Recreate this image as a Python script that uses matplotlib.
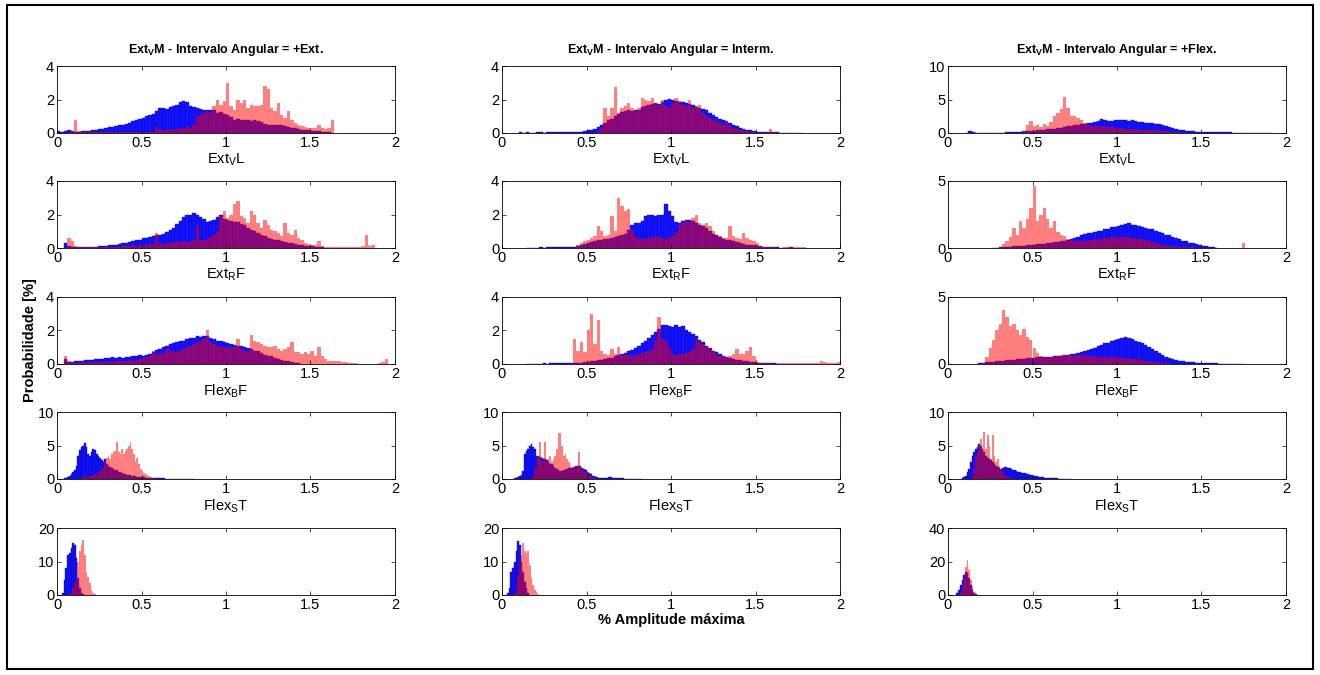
"""
Ext_V M amplitude histograms (blue vs red) for three angular intervals.
"""
import matplotlib
matplotlib.use("Agg")
import matplotlib.pyplot as plt
from matplotlib.patches import Rectangle
import numpy as np

plt.rcParams["font.family"] = ["Liberation Sans", "DejaVu Sans"]
plt.rcParams["mathtext.fontset"] = "custom"
plt.rcParams["mathtext.rm"] = "Liberation Sans"
plt.rcParams["mathtext.it"] = "Liberation Sans"
plt.rcParams["mathtext.bf"] = "Liberation Sans:bold"

# ---- data: bar heights in %, bins start at *_x0 ----
# rows 1-3 use 0.02 bins, rows 4-5 use 0.01 bins
col_titles = ["+Ext.", "Interm.", "+Flex."]
row_labels = ["Ext$_\\mathregular{V}$L", "Ext$_\\mathregular{R}$F",
              "Flex$_\\mathregular{B}$F", "Flex$_\\mathregular{S}$T", ""]
bin_w = [0.02, 0.02, 0.02, 0.01, 0.01]
y_max = [[4, 4, 10], [4, 4, 5], [4, 4, 5], [10, 10, 10], [20, 20, 40]]

# Ext_V L
extvl_ext_blue_x0 = 0.00
extvl_ext_blue = [0.10, 0.08, 0.10, 0.15, 0.10, 0.08, 0.08, 0.10, 0.10, 0.12,
                  0.15, 0.20, 0.22, 0.25, 0.30, 0.35, 0.38, 0.42, 0.45, 0.50,
                  0.55, 0.62, 0.70, 0.75, 0.85, 0.90, 1.00, 1.10, 1.15, 1.30,
                  1.50, 1.50, 1.45, 1.55, 1.60, 1.70, 1.85, 1.90, 1.85, 1.60,
                  1.55, 1.50, 1.45, 1.40, 1.35, 1.40, 1.35, 1.20, 1.25, 1.15,
                  1.05, 0.95, 0.80, 0.85, 0.80, 0.80, 0.75, 0.70, 0.75, 0.70,
                  0.65, 0.55, 0.50, 0.50, 0.45, 0.45, 0.50, 0.40, 0.35, 0.30,
                  0.30, 0.25, 0.20, 0.18, 0.15, 0.12, 0.12, 0.10, 0.08, 0.06, 0.05]
extvl_ext_red_x0 = 0.08
extvl_ext_red = [0.10, 0.80, 0.10,
                 0.05, 0.04, 0.05, 0.06, 0.05, 0.04, 0.05, 0.06, 0.05, 0.05, 0.06,
                 0.05, 0.04, 0.05, 0.06, 0.05, 0.06, 0.05, 0.06, 0.07, 0.06, 0.08,
                 0.35, 0.20, 0.20, 0.20, 0.25, 0.20, 0.25, 0.30, 0.30, 0.35, 0.30,
                 0.50, 1.00, 1.10, 1.20, 1.30, 1.20, 1.60, 2.00, 1.70, 1.90, 3.00,
                 1.60, 1.40, 2.00, 1.80, 2.00, 1.50, 1.70, 1.60, 1.60, 1.70, 2.80,
                 2.60, 1.50, 1.30, 1.80, 1.10, 0.90, 1.30, 0.80, 0.60, 0.45, 0.40,
                 0.35, 0.30, 0.30, 0.30, 0.50, 0.30, 0.25, 0.30, 0.80]
extvl_int_blue_x0 = 0.10
extvl_int_blue = [0.03, 0.02, 0.03, 0.02, 0.02, 0.03, 0.03, 0.02, 0.03, 0.04,
                  0.06, 0.03, 0.03, 0.04, 0.05, 0.05, 0.06, 0.06, 0.08, 0.10,
                  0.15, 0.20, 0.25, 0.35, 0.45, 0.60, 0.75, 0.85, 1.00, 1.15,
                  1.25, 1.30, 1.35, 1.30, 1.35, 1.40, 1.55, 1.60, 1.70, 1.75,
                  1.80, 1.75, 1.85, 2.00, 2.05, 1.95, 1.90, 1.85, 1.85, 1.80,
                  1.75, 1.65, 1.55, 1.50, 1.45, 1.35, 1.20, 1.05, 0.95, 0.85,
                  0.80, 0.70, 0.60, 0.50, 0.40, 0.30, 0.25, 0.20, 0.15, 0.10,
                  0.08, 0.06, 0.05, 0.04, 0.03, 0.03, 0.03, 0.02, 0.02, 0.02,
                  0.02, 0.02, 0.02, 0.02]
extvl_int_red_x0 = 0.56
extvl_int_red = [0.10, 0.30, 1.50, 1.00, 1.50, 2.75, 1.20, 1.50, 1.60, 1.80,
                 1.50, 1.30, 1.50, 2.10, 2.00, 1.90, 2.10, 1.80, 1.70, 2.00,
                 1.60, 1.50, 1.80, 2.10, 1.90, 1.70, 1.60, 2.00, 1.50, 1.60,
                 1.70, 1.20, 1.00, 0.90, 0.80, 0.70, 0.60, 0.50, 0.70, 0.40,
                 0.30, 0.25, 0.20, 0.15, 0.10, 0.05, 0.03, 0.02, 0.02, 0.02,
                 0.05, 0.25, 0.05]
extvl_flx_blue_x0 = 0.10
extvl_flx_blue = [0.05, 0.30, 0.20, 0.03, 0.02, 0.02, 0.03, 0.03, 0.03, 0.04,
                  0.05, 0.06, 0.08, 0.10, 0.12, 0.18, 0.22, 0.25, 0.28, 0.30,
                  0.35, 0.40, 0.45, 0.50, 0.55, 0.60, 0.65, 0.70, 0.80, 0.90,
                  1.00, 1.05, 1.15, 1.25, 1.30, 1.40, 1.45, 1.55, 1.60, 1.80,
                  2.10, 1.90, 1.80, 1.75, 1.90, 2.00, 1.95, 1.90, 1.85, 1.90,
                  1.80, 1.70, 1.60, 1.55, 1.50, 1.45, 1.35, 1.30, 1.25, 1.10,
                  0.90, 0.80, 0.65, 0.50, 0.40, 0.30, 0.25, 0.25, 0.22, 0.20,
                  0.18, 0.16, 0.15, 0.14, 0.12, 0.12, 0.10, 0.10, 0.08, 0.07,
                  0.06, 0.05, 0.05, 0.04, 0.04, 0.03, 0.03, 0.03, 0.03, 0.03, 0.03]
extvl_flx_red_x0 = 0.44
extvl_flx_red = [0.30, 1.20, 1.80, 1.00, 1.20, 0.90, 1.40, 1.00, 1.60, 2.50,
                 3.00, 3.60, 5.30, 3.80, 2.50, 2.50, 2.30, 2.00, 1.50, 1.20,
                 1.10, 1.00, 1.00, 1.00, 0.95, 0.90, 0.85, 0.80, 0.75, 0.70,
                 0.65, 0.60, 0.55, 0.55, 0.50, 0.50, 0.48, 0.45, 0.42, 0.38,
                 0.34, 0.30, 0.25, 0.20, 0.15, 0.10, 0.08, 0.05]

# Ext_R F
extrf_ext_blue_x0 = 0.04
extrf_ext_blue = [0.30, 0.10, 0.05, 0.05, 0.05, 0.05, 0.06, 0.06, 0.07, 0.08,
                  0.10, 0.10, 0.12, 0.15, 0.18, 0.20, 0.22, 0.28, 0.30, 0.35,
                  0.40, 0.45, 0.50, 0.60, 0.60, 0.65, 0.70, 0.75, 0.80, 0.85,
                  0.95, 1.05, 1.20, 1.45, 1.60, 1.85, 1.95, 2.00, 2.10, 2.00,
                  1.85, 1.75, 1.55, 1.60, 1.70, 1.85, 2.00, 1.75, 1.65, 1.60,
                  1.55, 1.55, 1.45, 1.35, 1.20, 1.10, 1.00, 0.90, 0.80, 0.70,
                  0.62, 0.55, 0.50, 0.45, 0.40, 0.35, 0.30, 0.28, 0.25, 0.20,
                  0.15, 0.14, 0.12, 0.10, 0.08, 0.06, 0.05]
extrf_ext_red_x0 = 0.06
extrf_ext_red = [0.60, 0.40, 0.10,
                 0.06, 0.05, 0.05, 0.06, 0.05, 0.06, 0.06, 0.07, 0.06, 0.07, 0.08,
                 0.07, 0.08, 0.10, 0.10, 0.12, 0.15, 0.12, 0.15, 0.18, 0.20, 0.25,
                 0.25, 0.90, 0.30, 0.25, 0.30, 0.30, 0.35, 0.35, 0.35, 0.40, 0.35,
                 0.40, 0.40, 1.40, 0.50, 0.50, 0.60, 0.60, 0.80, 1.00, 1.90, 2.20,
                 1.80, 2.00, 2.60, 2.80, 1.90, 1.80, 1.50, 2.20, 2.00, 1.50, 1.20,
                 1.70, 1.40, 1.10, 1.00, 0.90, 0.70, 1.50, 0.90, 0.80, 1.10, 0.60,
                 0.50, 0.30, 0.25, 0.20, 0.20, 0.40, 0.10, 0.05, 0.04, 0.05, 0.04,
                 0.05, 0.05, 0.06, 0.05, 0.06, 0.05, 0.08, 0.10, 0.80, 0.10, 0.15]
extrf_int_blue_x0 = 0.14
extrf_int_blue = [0.02, 0.02, 0.02, 0.02, 0.03, 0.02, 0.03, 0.03, 0.03, 0.05,
                  0.04, 0.04, 0.05, 0.06, 0.08, 0.12, 0.18, 0.25, 0.30, 0.35,
                  0.40, 0.45, 0.50, 0.55, 0.55, 0.60, 0.65, 0.70, 0.75, 0.85,
                  1.10, 1.35, 1.50, 1.50, 1.60, 1.90, 2.00, 1.95, 1.90, 1.95,
                  2.00, 2.60, 2.20, 1.90, 1.55, 1.50, 1.60, 1.70, 1.70, 1.60,
                  1.50, 1.40, 1.30, 1.20, 1.00, 0.85, 0.75, 0.65, 0.55, 0.50,
                  0.45, 0.40, 0.35, 0.30, 0.25, 0.20, 0.18, 0.15, 0.12, 0.10,
                  0.08, 0.05, 0.04, 0.03, 0.03, 0.02, 0.02, 0.02, 0.03]
extrf_int_red_x0 = 0.44
extrf_int_red = [0.20, 0.30, 0.40, 0.50, 0.60, 0.70, 1.30, 1.00, 0.70, 0.80,
                 1.90, 1.00, 3.00, 2.50, 2.20, 2.30, 1.10, 0.70, 0.60, 0.55,
                 0.55, 0.60, 0.65, 0.70, 0.65, 0.60, 0.55, 0.60, 0.70, 0.90,
                 1.40, 1.50, 1.60, 1.55, 1.80, 2.00, 1.50, 1.40, 1.50, 1.30,
                 1.00, 0.80, 0.70, 0.60, 0.60, 1.30, 0.70, 0.60, 0.55, 0.90,
                 0.60, 0.50, 0.40, 0.30, 0.10, 0.05, 0.04, 0.03, 0.03, 0.02,
                 0.02, 0.03, 0.03, 0.04, 0.05, 0.05, 0.05, 0.05]
extrf_flx_blue_x0 = 0.26
extrf_flx_blue = [0.02, 0.03, 0.05, 0.06, 0.08, 0.10, 0.12, 0.14, 0.16, 0.18,
                  0.20, 0.22, 0.25, 0.28, 0.30, 0.32, 0.35, 0.38, 0.42, 0.45,
                  0.50, 0.55, 0.60, 0.65, 0.75, 0.85, 0.95, 1.05, 1.10, 1.15,
                  1.20, 1.25, 1.30, 1.40, 1.45, 1.55, 1.60, 1.65, 1.75, 1.80,
                  1.85, 1.75, 1.70, 1.65, 1.60, 1.50, 1.45, 1.40, 1.30, 1.20,
                  1.10, 1.00, 0.95, 0.85, 0.75, 0.65, 0.55, 0.50, 0.40, 0.35,
                  0.28, 0.22, 0.18, 0.12, 0.08, 0.05, 0.03]
extrf_flx_red_x0 = 0.30
extrf_flx_red = [0.10, 0.30, 0.50, 0.80, 1.50, 1.00, 2.00, 1.50, 2.20, 3.00,
                 4.60, 2.00, 2.50, 3.00, 2.20, 1.50, 2.00, 1.20, 1.00, 0.90,
                 0.70, 0.60, 0.55, 0.50, 0.50, 0.55, 0.60, 0.60, 0.65, 0.70,
                 0.70, 0.75, 0.75, 0.80, 0.80, 0.80, 0.85, 0.80, 0.80, 0.75,
                 0.70, 0.70, 0.65, 0.60, 0.50, 0.45, 0.35, 0.30, 0.25, 0.20,
                 0.15, 0.12, 0.10, 0.08, 0.06, 0.05, 0.04, 0.04, 0.03, 0.03,
                 0.03, 0.03, 0.02, 0.02, 0.02, 0.02, 0.02, 0.02, 0.02, 0.02,
                 0.02, 0.02, 0.40]

# Flex_B F
flexbf_ext_blue_x0 = 0.04
flexbf_ext_blue = [0.30, 0.12, 0.12, 0.15, 0.18, 0.20, 0.22, 0.25, 0.25, 0.28,
                   0.30, 0.32, 0.35, 0.38, 0.40, 0.38, 0.40, 0.38, 0.40, 0.42,
                   0.45, 0.50, 0.52, 0.50, 0.52, 0.60, 0.70, 0.85, 0.90, 1.00,
                   1.10, 1.20, 1.25, 1.30, 1.35, 1.40, 1.50, 1.55, 1.55, 1.65,
                   1.60, 1.65, 1.70, 1.55, 1.50, 1.40, 1.35, 1.30, 1.25, 1.20,
                   1.15, 1.10, 1.05, 1.00, 0.95, 0.90, 0.80, 0.75, 0.65, 0.55,
                   0.50, 0.45, 0.38, 0.32, 0.25, 0.20, 0.15, 0.12, 0.08, 0.05]
flexbf_ext_red_x0 = 0.04
flexbf_ext_red = [0.50, 0.15, 0.10,
                  0.08, 0.08, 0.10, 0.08, 0.10, 0.10, 0.12, 0.10, 0.12, 0.12, 0.15,
                  0.12, 0.15, 0.15, 0.18, 0.20, 0.22, 0.20, 0.25, 0.30, 0.35, 0.40,
                  0.50, 0.80, 0.55, 0.60, 0.65, 0.90, 0.75, 0.80, 0.70, 0.85, 0.90,
                  1.00, 1.10, 1.20, 1.30, 1.40, 1.50, 2.00, 1.30, 1.20, 1.10, 1.05,
                  1.00, 1.00, 0.95, 1.00, 1.50, 0.90, 0.80, 0.80, 1.75, 1.40, 1.30,
                  1.20, 1.10, 1.00, 1.00, 1.10, 0.90, 0.80, 0.90, 1.00, 1.30, 0.70,
                  0.70, 0.60, 0.70, 0.60, 0.80, 0.50, 1.00, 0.50, 0.30, 0.20, 0.18,
                  0.15, 0.15, 0.12, 0.10, 0.05, 0.03, 0.03, 0.02, 0.02, 0.02, 0.02,
                  0.02, 0.02, 0.05, 0.10, 0.30]
flexbf_int_blue_x0 = 0.14
flexbf_int_blue = [0.02, 0.02, 0.02, 0.02, 0.02, 0.03, 0.02, 0.03, 0.03, 0.03,
                   0.03, 0.04, 0.04, 0.05, 0.06, 0.07, 0.08, 0.10, 0.12, 0.15,
                   0.18, 0.22, 0.26, 0.30, 0.34, 0.38, 0.45, 0.52, 0.60, 0.68,
                   0.75, 0.82, 0.95, 1.10, 1.25, 1.40, 1.55, 1.75, 1.90, 2.10,
                   2.35, 2.30, 2.25, 2.20, 2.30, 2.20, 2.25, 2.05, 1.90, 1.80,
                   1.65, 1.45, 1.30, 1.10, 0.95, 0.80, 0.70, 0.60, 0.50, 0.42,
                   0.36, 0.30, 0.25, 0.22, 0.18, 0.15, 0.12, 0.10, 0.08, 0.06,
                   0.05, 0.04, 0.03, 0.03, 0.02]
flexbf_int_red_x0 = 0.42
flexbf_int_red = [1.50, 0.80, 1.30, 0.70, 2.00, 3.00, 1.20, 2.60, 0.80, 0.60,
                  0.55, 0.90, 0.60, 1.00, 0.55, 0.60, 0.50, 0.50, 0.55, 0.60,
                  0.65, 0.70, 0.80, 0.90, 1.40, 2.80, 1.50, 1.40, 1.00, 0.60,
                  0.55, 0.60, 0.60, 0.65, 0.70, 0.90, 1.50, 1.40, 1.20, 1.10,
                  0.90, 0.80, 0.60, 0.50, 0.45, 0.40, 0.50, 0.60, 0.90, 0.60,
                  0.60, 0.80, 1.00, 0.50, 0.10, 0.05, 0.04, 0.03, 0.03, 0.02,
                  0.03, 0.05, 0.05, 0.05, 0.06, 0.05, 0.06, 0.05, 0.06, 0.06,
                  0.05, 0.06, 0.08, 0.20, 0.10, 0.06, 0.08, 0.06, 0.10]
flexbf_flx_blue_x0 = 0.18
flexbf_flx_blue = [0.05, 0.10, 0.12, 0.15, 0.18, 0.20, 0.22, 0.25, 0.28, 0.30,
                   0.32, 0.35, 0.38, 0.40, 0.42, 0.45, 0.48, 0.50, 0.50, 0.52,
                   0.55, 0.55, 0.58, 0.60, 0.62, 0.65, 0.70, 0.72, 0.75, 0.80,
                   0.90, 1.00, 1.05, 1.10, 1.20, 1.35, 1.45, 1.55, 1.60, 1.70,
                   1.80, 1.90, 1.95, 2.00, 1.95, 1.85, 1.75, 1.65, 1.55, 1.40,
                   1.25, 1.10, 0.95, 0.80, 0.65, 0.55, 0.45, 0.38, 0.30, 0.25,
                   0.20, 0.18, 0.15, 0.12, 0.10, 0.08, 0.07, 0.06, 0.05, 0.04,
                   0.04, 0.03, 0.03, 0.02, 0.02, 0.02, 0.02, 0.02, 0.02]
flexbf_flx_red_x0 = 0.20
flexbf_flx_red = [0.10, 0.50, 1.20, 1.80, 2.50, 3.00, 4.00, 3.50, 2.80, 3.00,
                  2.50, 2.20, 2.60, 2.00, 1.80, 1.20, 0.80, 0.60, 0.55, 0.50,
                  0.50, 0.55, 0.60, 0.65, 0.70, 0.70, 0.65, 0.60, 0.65, 0.70,
                  0.65, 0.60, 0.60, 0.55, 0.55, 0.50, 0.50, 0.50, 0.50, 0.50,
                  0.50, 0.48, 0.45, 0.42, 0.40, 0.38, 0.35, 0.30, 0.25, 0.20,
                  0.18, 0.15, 0.12, 0.10, 0.08, 0.05]

# Flex_S T
flexst_ext_blue_x0 = 0.04
flexst_ext_blue = [0.1, 0.2, 0.3, 0.5, 0.7, 1.0, 1.3, 2.0, 3.5, 4.3,
                   4.8, 5.0, 5.3, 4.8, 3.8, 3.5, 4.0, 4.5, 4.3, 3.8,
                   3.5, 3.2, 2.8, 2.5, 3.0, 2.2, 2.0, 1.8, 1.6, 1.5,
                   1.4, 1.3, 1.1, 1.0, 0.9, 0.8, 0.7, 0.65, 0.6, 0.55,
                   0.5, 0.45, 0.4, 0.35, 0.3, 0.3, 0.25, 0.25, 0.2, 0.2,
                   0.18, 0.15, 0.15, 0.12, 0.12, 0.1, 0.1, 0.1, 0.08, 0.08,
                   0.07, 0.06, 0.06, 0.05, 0.05, 0.04, 0.04, 0.03, 0.03, 0.03,
                   0.02, 0.02, 0.02, 0.02, 0.02, 0.02, 0.02]
flexst_ext_red_x0 = 0.14
flexst_ext_red = [0.1, 0.2, 0.8, 0.3, 0.3, 0.4, 0.5, 0.6, 0.7, 0.8,
                  1.0, 1.2, 1.5, 1.8, 2.5, 3.2, 3.5, 3.0, 3.8, 4.0,
                  4.2, 5.5, 4.0, 3.8, 4.5, 3.8, 4.2, 4.5, 5.0, 5.5,
                  4.5, 3.8, 2.5, 3.2, 2.2, 1.5, 1.2, 0.9, 0.7, 0.5,
                  0.4, 0.3, 0.2, 0.1]
flexst_int_blue_x0 = 0.07
flexst_int_blue = [0.1, 0.2, 0.3, 0.4, 0.6, 1.2, 3.8, 4.2, 4.5, 5.0,
                   5.2, 4.8, 4.5, 3.5, 3.4, 3.3, 3.2, 3.0, 3.0, 2.8,
                   2.6, 2.3, 2.2, 2.0, 1.7, 1.5, 1.3, 1.2, 1.2, 1.3,
                   1.4, 1.5, 1.6, 1.6, 1.7, 1.8, 1.9, 2.0, 2.0, 1.9,
                   1.7, 1.5, 1.3, 1.1, 0.9, 0.7, 0.5, 0.4, 0.3, 0.25,
                   0.2, 0.2, 0.2, 0.2, 0.2, 0.22, 0.25, 0.25, 0.22, 0.2,
                   0.18, 0.15, 0.12, 0.1, 0.08, 0.07, 0.06, 0.05, 0.05, 0.04,
                   0.03, 0.03, 0.02, 0.02, 0.02, 0.02]
flexst_int_red_x0 = 0.18
flexst_int_red = [0.5, 1.5, 2.0, 3.5, 5.5, 2.5, 3.0, 5.5, 2.5, 3.0,
                  3.5, 2.5, 3.0, 3.5, 4.5, 6.8, 6.8, 5.0, 3.5, 3.8,
                  3.0, 2.5, 2.0, 1.5, 1.8, 2.0, 2.0, 4.0, 2.0, 1.5,
                  1.2, 1.0, 0.8, 0.6, 0.4, 0.3, 0.2, 0.1]
flexst_flx_blue_x0 = 0.08
flexst_flx_blue = [0.1, 0.3, 0.5, 1.0, 1.5, 2.5, 3.5, 4.0, 4.5, 4.8,
                   5.2, 5.0, 4.5, 4.0, 3.5, 3.2, 3.0, 2.8, 2.5, 2.2,
                   2.0, 1.8, 1.6, 1.5, 1.6, 1.8, 1.8, 1.7, 1.6, 1.5,
                   1.4, 1.3, 1.2, 1.1, 1.0, 0.95, 0.9, 0.85, 0.8, 0.7,
                   0.6, 0.55, 0.5, 0.45, 0.4, 0.35, 0.3, 0.3, 0.25, 0.22,
                   0.2, 0.18, 0.15, 0.12, 0.1, 0.1, 0.08, 0.07, 0.06, 0.05,
                   0.05, 0.04, 0.04, 0.03, 0.03]
flexst_flx_red_x0 = 0.14
flexst_flx_red = [0.5, 1.5, 3.5, 4.0, 5.0, 6.0, 4.5, 7.0, 4.5, 6.5,
                  5.0, 3.0, 6.5, 3.5, 2.5, 3.0, 2.0, 1.5, 1.0, 0.8,
                  0.5, 0.3, 0.2, 0.15, 0.1]

# bottom row (unlabelled)
last_ext_blue_x0 = 0.03
last_ext_blue = [0.5, 4.5, 8.0, 12.0, 12.5, 14.0, 15.5, 15.0, 11.0, 5.0, 2.0, 0.5, 0.2]
last_ext_red_x0 = 0.07
last_ext_red = [0.3, 1.0, 2.0, 3.5, 5.0, 10.0, 13.0, 15.0, 16.5, 12.0,
                7.0, 5.5, 3.5, 1.5, 0.5, 0.2]
last_int_blue_x0 = 0.03
last_int_blue = [0.5, 2.0, 7.0, 8.0, 10.0, 13.0, 16.0, 15.0, 10.0, 7.0, 4.0, 2.0, 0.5]
last_int_red_x0 = 0.07
last_int_red = [0.5, 2.0, 6.0, 10.0, 12.0, 15.5, 13.0, 12.5, 13.0, 9.0,
                5.0, 3.0, 1.5, 0.8, 0.3]
last_flx_blue_x0 = 0.05
last_flx_blue = [1.0, 3.0, 6.0, 9.0, 12.0, 14.0, 13.0, 10.0, 6.0, 3.0, 1.0, 0.3]
last_flx_red_x0 = 0.07
last_flx_red = [2.0, 5.0, 10.0, 17.0, 21.0, 15.0, 9.0, 5.0, 2.0, 0.5]

panels = [
    [(extvl_ext_blue_x0, extvl_ext_blue, extvl_ext_red_x0, extvl_ext_red),
     (extvl_int_blue_x0, extvl_int_blue, extvl_int_red_x0, extvl_int_red),
     (extvl_flx_blue_x0, extvl_flx_blue, extvl_flx_red_x0, extvl_flx_red)],
    [(extrf_ext_blue_x0, extrf_ext_blue, extrf_ext_red_x0, extrf_ext_red),
     (extrf_int_blue_x0, extrf_int_blue, extrf_int_red_x0, extrf_int_red),
     (extrf_flx_blue_x0, extrf_flx_blue, extrf_flx_red_x0, extrf_flx_red)],
    [(flexbf_ext_blue_x0, flexbf_ext_blue, flexbf_ext_red_x0, flexbf_ext_red),
     (flexbf_int_blue_x0, flexbf_int_blue, flexbf_int_red_x0, flexbf_int_red),
     (flexbf_flx_blue_x0, flexbf_flx_blue, flexbf_flx_red_x0, flexbf_flx_red)],
    [(flexst_ext_blue_x0, flexst_ext_blue, flexst_ext_red_x0, flexst_ext_red),
     (flexst_int_blue_x0, flexst_int_blue, flexst_int_red_x0, flexst_int_red),
     (flexst_flx_blue_x0, flexst_flx_blue, flexst_flx_red_x0, flexst_flx_red)],
    [(last_ext_blue_x0, last_ext_blue, last_ext_red_x0, last_ext_red),
     (last_int_blue_x0, last_int_blue, last_int_red_x0, last_int_red),
     (last_flx_blue_x0, last_flx_blue, last_flx_red_x0, last_flx_red)],
]

# ---- figure ----
W, H = 1320, 675
fig = plt.figure(figsize=(W / 100, H / 100), dpi=100)
fig.patches.append(Rectangle((7 / W, 1 - 669 / H), 1306 / W, 664 / H,
                             transform=fig.transFigure, fill=False,
                             edgecolor="black", linewidth=1.5))

col_left = [57, 502, 948]
row_top = [66, 181, 297, 412, 528]
ax_w, ax_h = 338, 67

for r in range(5):
    for c in range(3):
        ax = fig.add_axes([col_left[c] / W, 1 - (row_top[r] + ax_h) / H,
                           ax_w / W, ax_h / H])
        bx0, blue, rx0, red = panels[r][c]
        w = bin_w[r]
        bx = bx0 + w * np.arange(len(blue))
        rx = rx0 + w * np.arange(len(red))
        ax.bar(bx, blue, width=w, align="edge", color="#1414ff",
               edgecolor="#0000b4", linewidth=0.25)
        ax.bar(rx, red, width=w, align="edge", color="#ff0000", alpha=0.5,
               linewidth=0)
        ax.set_xlim(0, 2)
        ym = y_max[r][c]
        ax.set_ylim(0, ym)
        yt = [0, ym] if ym == 5 else [0, ym / 2, ym]
        ax.set_yticks(yt)
        ax.set_yticklabels([f"{v:g}" for v in yt])
        ax.set_xticks([0, 0.5, 1, 1.5, 2])
        ax.set_xticklabels(["0", "0.5", "1", "1.5", "2"])
        ax.tick_params(direction="in", length=3, width=0.5, top=True,
                       right=True, labelsize=10.5, pad=2)
        for s in ax.spines.values():
            s.set_linewidth(0.6)
        if row_labels[r]:
            ax.set_xlabel(row_labels[r], fontsize=10.5, labelpad=1)
        if r == 0:
            ax.set_title("Ext$_\\mathbf{V}$M - Intervalo Angular = " + col_titles[c],
                         fontsize=9, fontweight="bold", pad=9)
        if r == 4 and c == 1:
            ax.set_xlabel("% Amplitude máxima", fontsize=10.5,
                          fontweight="bold", labelpad=1)

fig.text(30 / W, 1 - 340 / H, "Probabilidade [%]", rotation=90,
         ha="center", va="center", fontsize=10.5, fontweight="bold")

fig.savefig("out.png", dpi=100)
